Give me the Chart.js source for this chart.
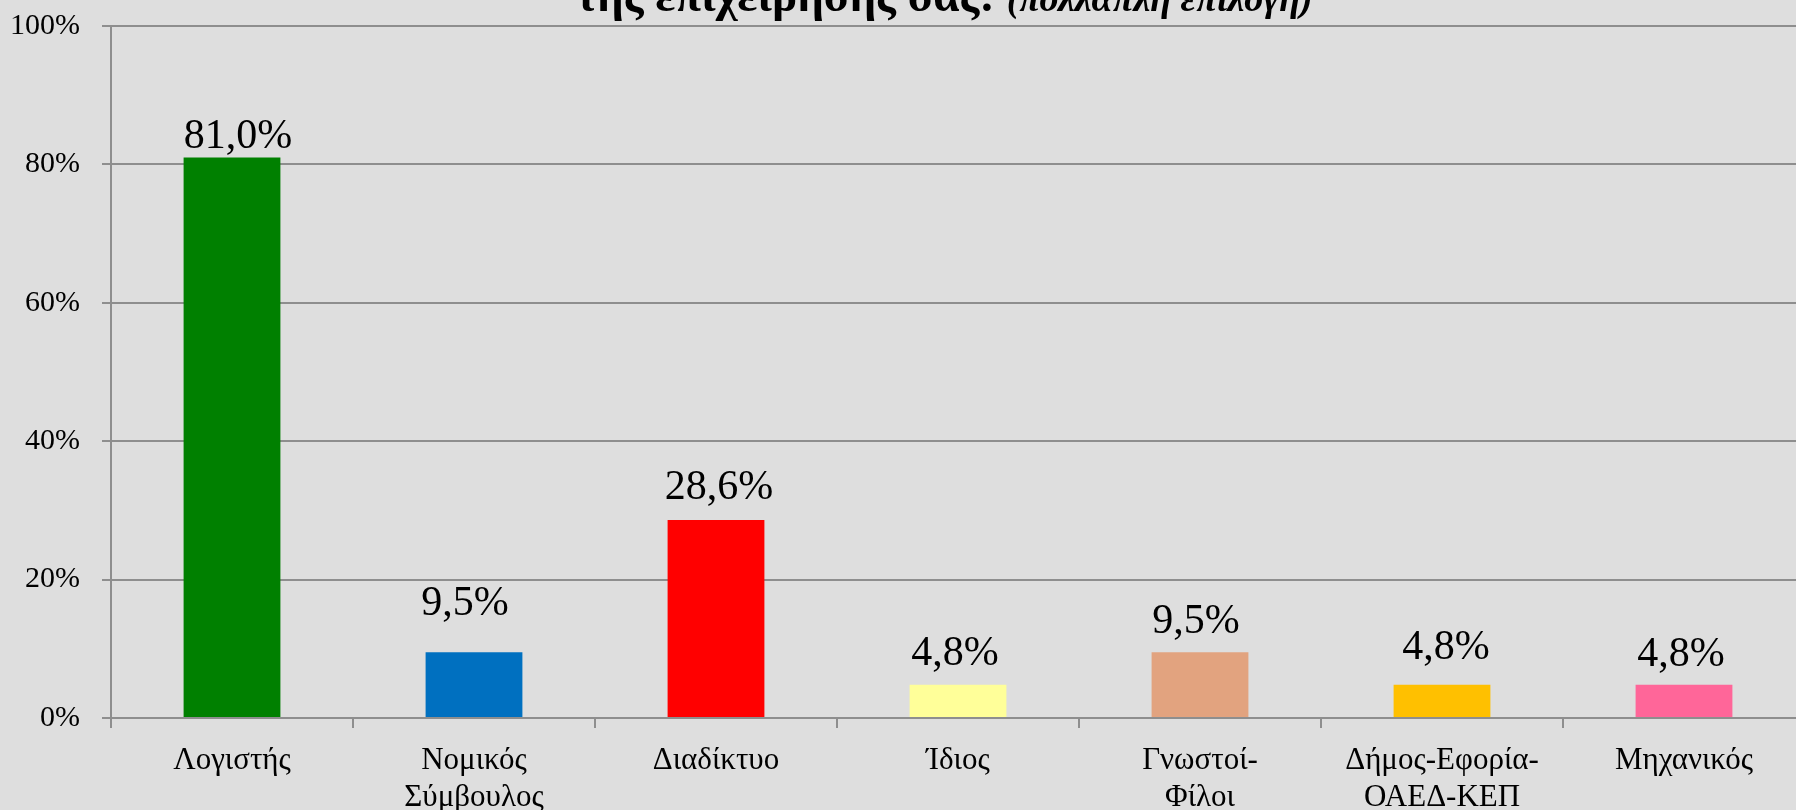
<!DOCTYPE html>
<html lang="el">
<head>
<meta charset="utf-8">
<title>Πηγές ενημέρωσης</title>
<script src="https://cdn.jsdelivr.net/npm/chart.js@4.4.1/dist/chart.umd.min.js"></script>
<style>
  html, body { margin: 0; padding: 0; background: #dedede; overflow: hidden; }
  #wrap { position: absolute; left: 0; top: 0; width: 1806px; height: 810px; }
</style>
</head>
<body>
<div id="wrap"><canvas id="chart"></canvas></div>
<script>
// Categories and percentages (multiple choice question)
const categories = [
  'Λογιστής',
  ['Νομικός', 'Σύμβουλος'],
  'Διαδίκτυο',
  'Ίδιος',
  ['Γνωστοί-', 'Φίλοι'],
  ['Δήμος-Εφορία-', 'ΟΑΕΔ-ΚΕΠ'],
  'Μηχανικός'
];
const percentages = [81.0, 9.5, 28.6, 4.8, 9.5, 4.8, 4.8];
const barColors = ['#008000', '#0070C0', '#FF0000', '#FFFF99', '#E2A37F', '#FFC000', '#FF6699'];
const yTicks = [0, 20, 40, 60, 80, 100];
const titleMain = 'της επιχείρησής σας: ';
const titleNote = '(πολλαπλή επιλογή)';

// Hand-placed value label nudges (px): lift above bar top, horizontal shift
const labelLift = [9, 37, 21, 20, 19, 26, 19];
const labelShift = [6, -9, 3, -3, -4, 4, -3];

const SERIF = '"Liberation Serif", "Times New Roman", "DejaVu Serif", serif';
const GRID = '#8e8e8e';

const fmt = v => v.toFixed(1).replace('.', ',') + '%';

// Value labels above each bar
const valueLabels = {
  id: 'valueLabels',
  afterDatasetsDraw(chart) {
    const ctx = chart.ctx;
    const meta = chart.getDatasetMeta(0);
    ctx.save();
    ctx.font = '42px ' + SERIF;
    ctx.fillStyle = '#000';
    ctx.textAlign = 'center';
    ctx.textBaseline = 'alphabetic';
    meta.data.forEach((bar, i) => {
      ctx.fillText(fmt(percentages[i]), bar.x + labelShift[i], bar.y - labelLift[i]);
    });
    ctx.restore();
  }
};

// Title line with a bold part and a smaller bold-italic note
const mixedTitle = {
  id: 'mixedTitle',
  afterDraw(chart) {
    const ctx = chart.ctx;
    ctx.save();
    ctx.fillStyle = '#000';
    ctx.textBaseline = 'alphabetic';
    const f1 = 'bold 47px ' + SERIF;
    const f2 = 'italic bold 38px ' + SERIF;
    ctx.font = f1; const w1 = ctx.measureText(titleMain).width;
    ctx.font = f2; const w2 = ctx.measureText(titleNote).width;
    const cx = 944;
    const x0 = cx - (w1 + w2) / 2;
    const base = 11;
    ctx.textAlign = 'left';
    ctx.font = f1; ctx.fillText(titleMain, x0, base);
    ctx.font = f2; ctx.fillText(titleNote, x0 + w1, base);
    ctx.restore();
  }
};

new Chart(document.getElementById('chart'), {
  type: 'bar',
  data: {
    labels: categories,
    datasets: [{
      data: percentages,
      backgroundColor: barColors,
      borderWidth: 0,
      barPercentage: 0.4,
      categoryPercentage: 1.0
    }]
  },
  options: {
    responsive: true,
    maintainAspectRatio: false,
    animation: false,
    events: [],
    layout: { padding: { top: 26, right: 1, left: 0, bottom: 0 } },
    plugins: {
      legend: { display: false },
      tooltip: { enabled: false },
      title: { display: false }
    },
    scales: {
      x: {
        offset: true,
        grid: {
          offset: true,
          drawOnChartArea: false,
          drawTicks: true,
          tickLength: 10,
          color: GRID,
          lineWidth: 2
        },
        border: { display: true, color: GRID, width: 2 },
        ticks: {
          color: '#000',
          font: { family: SERIF, size: 31, lineHeight: 1.17 },
          padding: 15,
          maxRotation: 0,
          autoSkip: false
        },
        afterFit(scale) {
          scale.height = 92;
          scale.paddingLeft = 0;
          scale.paddingRight = 0;
        }
      },
      y: {
        min: 0,
        max: 100,
        afterBuildTicks(scale) { scale.ticks = yTicks.map(v => ({ value: v })); },
        grid: {
          color: GRID,
          lineWidth: 2,
          drawTicks: true,
          tickLength: 9
        },
        border: { display: true, color: GRID, width: 2 },
        ticks: {
          color: '#000',
          font: { family: SERIF, size: 30 },
          padding: 22,
          callback: v => v + '%'
        },
        afterFit(scale) {
          scale.width = 111;
          scale.paddingTop = 0;
          scale.paddingBottom = 0;
        }
      }
    }
  },
  plugins: [valueLabels, mixedTitle]
});
</script>
</body>
</html>
